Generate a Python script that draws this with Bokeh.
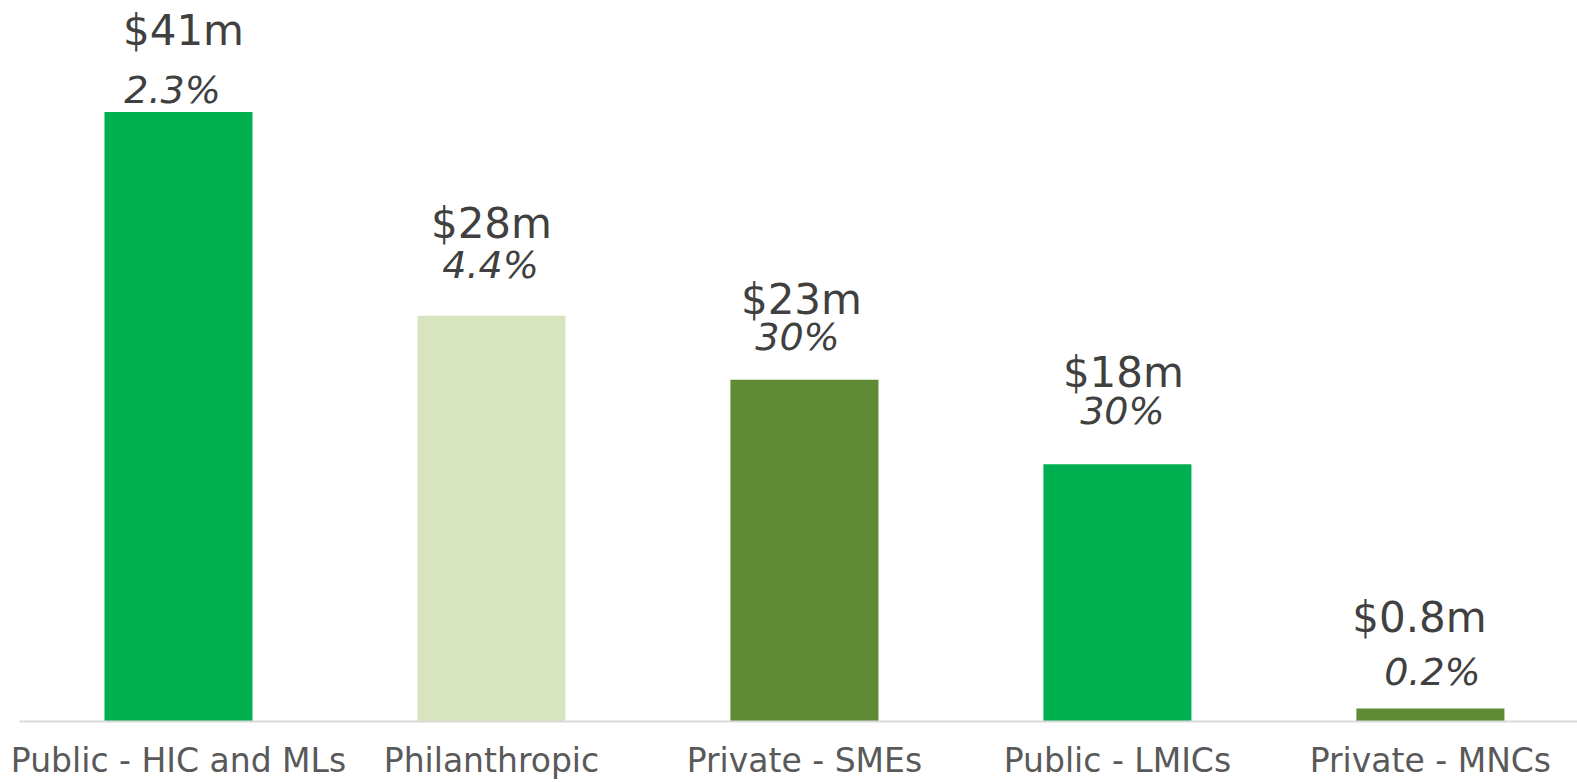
from bokeh.plotting import figure
from bokeh.models import ColumnDataSource, Range1d, FixedTicker
from bokeh.core.properties import value
from bokeh.embed import file_html
from bokeh.resources import INLINE

# ---- data ----
categories = ["Public - HIC and MLs", "Philanthropic", "Private - SMEs", "Public - LMICs", "Private - MNCs"]
amounts = [41.0, 27.3, 23.0, 17.3, 0.87]          # $m (bar heights)
amount_labels = ["$41m", "$28m", "$23m", "$18m", "$0.8m"]
share_labels = ["2.3%", "4.4%", "30%", "30%", "0.2%"]

# ---- styles ----
bar_colors = ["#00B050", "#D8E4BD", "#5F8B34", "#00B050", "#5F8B34"]
amt_dx = [5, 0, -3, 6, -11]
amt_dy = [-82, -92, -80, -92, -91]
shr_dx = [-6, -1, -7, 5, 2]
shr_dy = [-22, -51, -43, -53, -37]

xs = list(range(len(categories)))
src = ColumnDataSource(dict(
    x=xs, top=amounts, color=bar_colors,
    amt=amount_labels, shr=share_labels,
    adx=amt_dx, ady=amt_dy, sdx=shr_dx, sdy=shr_dy,
))

W, H = 1577, 782
p = figure(width=W, height=H, output_backend="svg", toolbar_location=None,
           x_range=Range1d(-0.508, 4.470), y_range=Range1d(0, 48.51),
           min_border_left=19, min_border_right=0, min_border_top=0,
           min_border_bottom=60)
p.outline_line_color = None
p.grid.visible = False
p.yaxis.visible = False
p.background_fill_color = "white"
p.border_fill_color = "white"

p.vbar(x="x", top="top", bottom=0, width=0.473, fill_color="color",
       line_color=None, source=src)

p.text(x="x", y="top", text="amt", x_offset="adx", y_offset="ady", source=src,
       text_align="center", text_baseline="alphabetic",
       text_font=value("DejaVu Sans"), text_font_size="42px", text_color="#404040")
p.text(x="x", y="top", text="shr", x_offset="sdx", y_offset="sdy", source=src,
       text_align="center", text_baseline="alphabetic",
       text_font=value("DejaVu Sans"), text_font_style="italic",
       text_font_size="38px", text_color="#404040")

ax = p.xaxis[0]
ax.ticker = FixedTicker(ticks=xs)
ax.major_label_overrides = {i: c for i, c in zip(xs, categories)}
ax.major_tick_line_color = None
ax.minor_tick_line_color = None
ax.major_tick_out = 0
ax.major_tick_in = 0
ax.axis_line_color = "#D9D9D9"
ax.axis_line_width = 2
ax.major_label_text_font = "DejaVu Sans"
ax.major_label_text_font_size = "33px"
ax.major_label_text_color = "#595959"
ax.major_label_standoff = 19

open("out.html", "w").write(file_html(p, INLINE))
